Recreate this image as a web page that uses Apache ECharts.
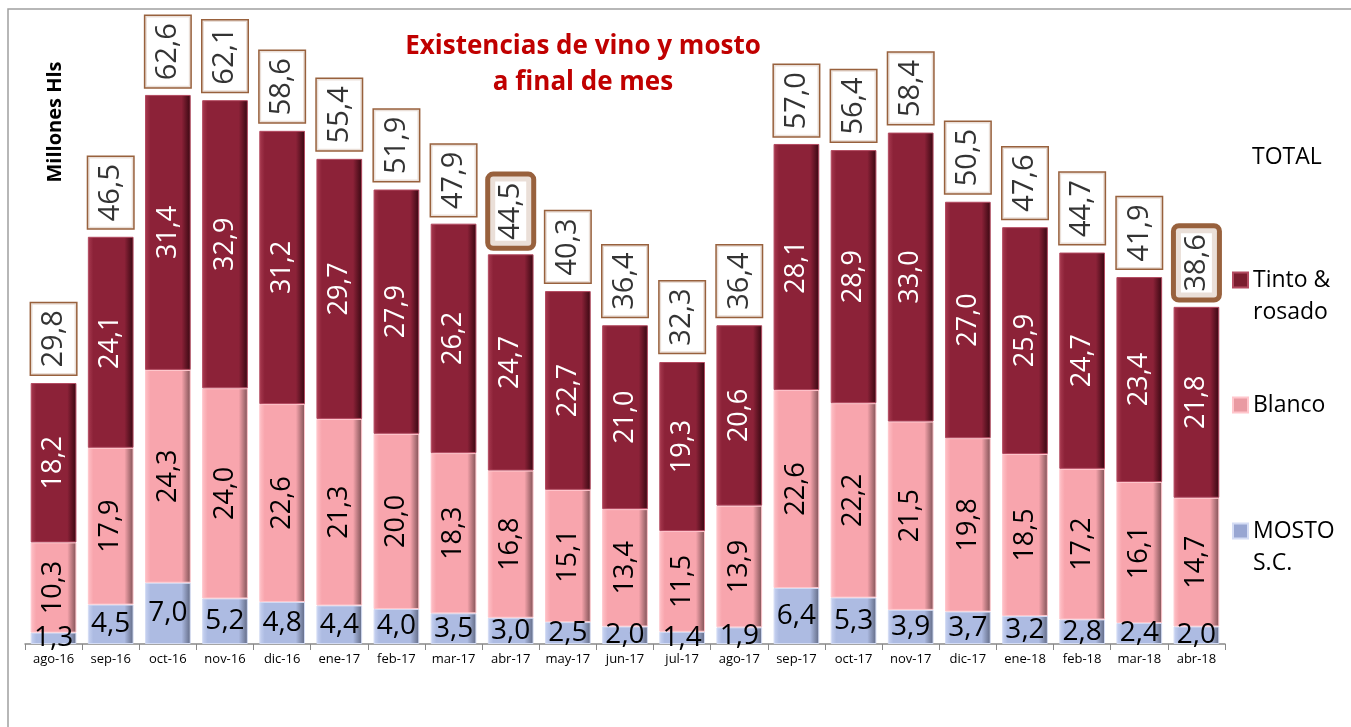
<!DOCTYPE html>
<html>
<head>
<meta charset="utf-8">
<script src="https://cdn.jsdelivr.net/npm/echarts@6/dist/echarts.min.js"></script>
<style>
  html, body { margin: 0; padding: 0; background: #fff; }
  #chart { width: 1351px; height: 727px; }
</style>
</head>
<body>
<div id="chart"></div>
<script>
const months = ['ago-16', 'sep-16', 'oct-16', 'nov-16', 'dic-16', 'ene-17', 'feb-17', 'mar-17', 'abr-17', 'may-17', 'jun-17',
  'jul-17', 'ago-17', 'sep-17', 'oct-17', 'nov-17', 'dic-17', 'ene-18', 'feb-18', 'mar-18', 'abr-18']
const mosto = [1.3, 4.5, 7.0, 5.2, 4.8, 4.4, 4.0, 3.5, 3.0, 2.5, 2.0, 1.4, 1.9, 6.4, 5.3, 3.9, 3.7, 3.2, 2.8, 2.4, 2.0]
const blanco = [10.3, 17.9, 24.3, 24.0, 22.6, 21.3, 20.0, 18.3, 16.8, 15.1, 13.4, 11.5, 13.9, 22.6, 22.2, 21.5, 19.8, 18.5, 17.2, 16.1, 14.7]
const tinto = [18.2, 24.1, 31.4, 32.9, 31.2, 29.7, 27.9, 26.2, 24.7, 22.7, 21.0, 19.3, 20.6, 28.1, 28.9, 33.0, 27.0, 25.9, 24.7, 23.4, 21.8]
const total = [29.8, 46.5, 62.6, 62.1, 58.6, 55.4, 51.9, 47.9, 44.5, 40.3, 36.4, 32.3, 36.4, 57.0, 56.4, 58.4, 50.5, 47.6, 44.7, 41.9, 38.6]
// months whose total box is drawn with a thick border
const highlighted = ['abr-17', 'abr-18']

const chart = echarts.init(document.getElementById('chart'))
const fmt = (v) => v.toFixed(1).replace('.', ',')
const boxColor = '#7E3A0C'
const font = 'Open Sans, Noto Sans, sans-serif'

const grad = (c1, c2, c3) => new echarts.graphic.LinearGradient(0, 0, 1, 0, [
  { offset: 0, color: c1 },
  { offset: 0.12, color: c2 },
  { offset: 0.8, color: c2 },
  { offset: 1, color: c3 }
])

const totalLabel = {
  show: true,
  position: 'top',
  rotate: 90,
  align: 'left',
  verticalAlign: 'middle',
  distance: 8,
  color: '#000',
  fontSize: 29,
  fontFamily: font,
  backgroundColor: '#fff',
  borderColor: boxColor,
  borderWidth: 1.5,
  textBorderWidth: 0,
  padding: [8, 7, 8, 7],
  formatter: (p) => fmt(p.value)
}

const totalData = total.map((v, i) => {
  if (highlighted.includes(months[i])) {
    return {
      value: v,
      label: Object.assign({}, totalLabel, { borderWidth: 5, borderRadius: 3, padding: [6, 6, 6, 6] })
    }
  }
  return v
})

// one legend per entry so the vertical spacing can follow the original
const legendBase = {
  orient: 'vertical',
  left: 1232,
  padding: 0,
  icon: 'rect',
  itemWidth: 15,
  itemHeight: 15,
  textStyle: { fontSize: 23, color: '#000', fontFamily: font, lineHeight: 32 }
}
// two-line entries: an empty first line keeps the icon level with "Tinto &" / "MOSTO"
const firstLineIcon = (name) => '\n' + name

const option = {
  animation: false,
  graphic: [
    {
      type: 'rect',
      shape: { x: 8, y: 9, width: 1400, height: 800 },
      style: { fill: 'none', stroke: '#a0a0a0', lineWidth: 1.5 },
      silent: true
    },
    {
      type: 'text',
      x: 55,
      y: 122,
      rotation: Math.PI / 2,
      style: {
        text: 'Millones Hls',
        font: 'bold 20px ' + font,
        fill: '#000',
        align: 'center',
        verticalAlign: 'middle'
      }
    }
  ],
  title: {
    text: 'Existencias de vino y mosto\na final de mes',
    left: 578,
    top: 24,
    textAlign: 'center',
    textStyle: {
      color: '#C00000',
      fontSize: 26,
      fontWeight: 'bold',
      fontFamily: font,
      lineHeight: 36
    }
  },
  legend: [
    Object.assign({}, legendBase, {
      top: 141,
      data: [{ name: 'TOTAL', itemStyle: { opacity: 0 } }]
    }),
    Object.assign({}, legendBase, {
      top: 232,
      formatter: firstLineIcon,
      data: [{ name: 'Tinto &\nrosado', itemStyle: { color: '#7a1c2e' } }]
    }),
    Object.assign({}, legendBase, {
      top: 389,
      data: [{ name: 'Blanco', itemStyle: { color: '#e99aa2' } }]
    }),
    Object.assign({}, legendBase, {
      top: 483,
      formatter: firstLineIcon,
      data: [{ name: 'MOSTO\nS.C.', itemStyle: { color: '#98a6d2' } }]
    })
  ],
  grid: { left: 25, right: 126, top: 31, bottom: 83 },
  xAxis: {
    type: 'category',
    data: months,
    axisLine: { lineStyle: { color: '#888', width: 1.5 } },
    axisTick: { show: true, length: 6, lineStyle: { color: '#888' } },
    axisLabel: { color: '#000', fontSize: 13, fontFamily: font, margin: 9, interval: 0 }
  },
  yAxis: {
    type: 'value',
    min: 0,
    max: 70,
    show: false,
    splitLine: { show: false }
  },
  series: [
    {
      name: 'MOSTO\nS.C.',
      type: 'bar',
      stack: 'total',
      barCategoryGap: '20%',
      data: mosto,
      itemStyle: {
        color: grad('#c9d4f2', '#adbbe2', '#5f6883'),
        borderColor: '#d4dcf4',
        borderWidth: 1
      },
      label: {
        show: true,
        position: 'inside',
        color: '#000',
        fontSize: 28,
        fontFamily: font,
        textBorderWidth: 0,
        formatter: (p) => fmt(p.value)
      }
    },
    {
      name: 'Blanco',
      type: 'bar',
      stack: 'total',
      data: blanco,
      itemStyle: {
        color: grad('#ffc2c8', '#f8a5ad', '#7d4f53'),
        borderColor: '#ffc6cc',
        borderWidth: 1
      },
      label: {
        show: true,
        position: 'inside',
        rotate: 90,
        color: '#000',
        fontSize: 27,
        fontFamily: font,
        textBorderWidth: 0,
        formatter: (p) => fmt(p.value)
      }
    },
    {
      name: 'Tinto &\nrosado',
      type: 'bar',
      stack: 'total',
      data: tinto,
      itemStyle: {
        color: grad('#a83a50', '#8c2238', '#360710'),
        borderColor: '#b34a60',
        borderWidth: 1
      },
      label: {
        show: true,
        position: 'inside',
        rotate: 90,
        color: '#fff',
        fontSize: 27,
        fontFamily: font,
        textBorderWidth: 0,
        formatter: (p) => fmt(p.value)
      }
    },
    {
      name: 'TOTAL',
      type: 'scatter',
      symbolSize: 1,
      itemStyle: { color: 'rgba(0,0,0,0)' },
      data: totalData,
      label: totalLabel
    }
  ]
}

chart.setOption(option)
window.addEventListener('resize', function () {
  chart.resize()
})
</script>
</body>
</html>
